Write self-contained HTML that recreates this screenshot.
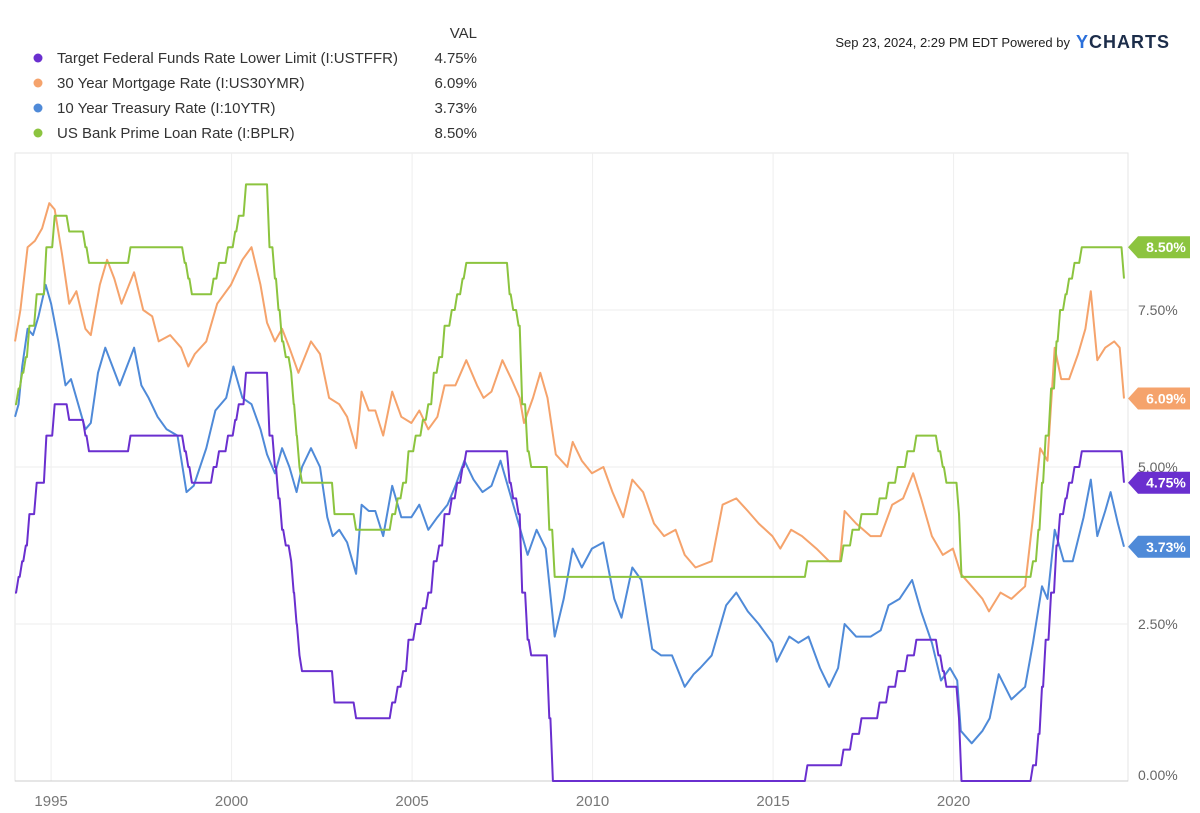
<!DOCTYPE html>
<html><head><meta charset="utf-8"><style>
body{margin:0;background:#fff;font-family:"Liberation Sans",sans-serif;}
svg{display:block}
</style></head><body>
<svg id="c" width="1200" height="813" xmlns="http://www.w3.org/2000/svg">
<g font-size="15" fill="#333">
<text x="477" y="38" text-anchor="end">VAL</text>
<g><circle cx="38" cy="58" r="4.5" fill="#6a2fcf"/><text x="57" y="63">Target Federal Funds Rate Lower Limit (I:USTFFR)</text><text x="477" y="63" text-anchor="end">4.75%</text></g>
<g><circle cx="38" cy="83" r="4.5" fill="#f5a36c"/><text x="57" y="88">30 Year Mortgage Rate (I:US30YMR)</text><text x="477" y="88" text-anchor="end">6.09%</text></g>
<g><circle cx="38" cy="108" r="4.5" fill="#4f8ad8"/><text x="57" y="113">10 Year Treasury Rate (I:10YTR)</text><text x="477" y="113" text-anchor="end">3.73%</text></g>
<g><circle cx="38" cy="133" r="4.5" fill="#8cc43f"/><text x="57" y="138">US Bank Prime Loan Rate (I:BPLR)</text><text x="477" y="138" text-anchor="end">8.50%</text></g>
</g>
<text x="1070" y="47" font-size="13" fill="#222" text-anchor="end">Sep 23, 2024, 2:29 PM EDT Powered by</text>
<text x="1076" y="48" font-size="18" font-weight="bold" fill="#1c2d4a" letter-spacing="1"><tspan fill="#2a6fdb">Y</tspan>CHARTS</text>
<g id="grid"></g>
<g id="series"></g>
<g id="tags"></g>
</svg>
<script>
const xTickYears=[1995,2000,2005,2010,2015,2020];
const yTicks=[0,2.5,5,7.5];
const yTickLabels=["0.00%","2.50%","5.00%","7.50%"];
const fedT=[1994.0,1994.1,1994.2,1994.3,1994.4,1994.6,1994.87,1995.1,1995.5,1995.95,1996.05,1997.2,1998.7,1998.8,1998.9,1999.5,1999.65,1999.9,2000.1,2000.2,2000.4,2001.05,2001.2,2001.3,2001.4,2001.5,2001.65,2001.72,2001.8,2001.88,2001.95,2002.85,2003.45,2004.45,2004.6,2004.75,2004.9,2005.1,2005.3,2005.45,2005.6,2005.75,2005.9,2006.1,2006.25,2006.4,2006.5,2007.7,2007.8,2007.95,2008.05,2008.2,2008.3,2008.8,2008.9,2015.95,2016.95,2017.2,2017.45,2017.95,2018.2,2018.45,2018.72,2018.97,2019.58,2019.7,2019.8,2020.15,2020.22,2022.2,2022.35,2022.45,2022.55,2022.7,2022.85,2022.95,2023.1,2023.2,2023.35,2023.55,2024.72];
const fedV=[3.0,3.25,3.5,3.75,4.25,4.75,5.5,6.0,5.75,5.5,5.25,5.5,5.25,5.0,4.75,5.0,5.25,5.5,5.75,6.0,6.5,5.5,5.0,4.5,4.0,3.75,3.5,3.0,2.5,2.0,1.75,1.25,1.0,1.25,1.5,1.75,2.25,2.5,2.75,3.0,3.5,3.75,4.25,4.5,4.75,5.0,5.25,4.75,4.5,4.25,3.0,2.25,2.0,1.0,0,0.25,0.5,0.75,1.0,1.25,1.5,1.75,2.0,2.25,2.0,1.75,1.5,1.0,0,0.25,0.75,1.5,2.25,3.0,3.75,4.25,4.5,4.75,5.0,5.25,4.75];
const primeT=[1994.0,1994.1,1994.2,1994.3,1994.4,1994.6,1994.87,1995.1,1995.5,1995.95,1996.05,1997.2,1998.7,1998.8,1998.9,1999.5,1999.65,1999.9,2000.1,2000.2,2000.4,2001.05,2001.2,2001.3,2001.4,2001.5,2001.65,2001.72,2001.8,2001.88,2001.95,2002.85,2003.45,2004.45,2004.6,2004.75,2004.9,2005.1,2005.3,2005.45,2005.6,2005.75,2005.9,2006.1,2006.25,2006.4,2006.5,2007.7,2007.8,2007.95,2008.05,2008.2,2008.3,2008.8,2008.95,2015.95,2016.95,2017.2,2017.45,2017.95,2018.2,2018.45,2018.72,2018.97,2019.58,2019.7,2019.8,2020.15,2020.22,2022.2,2022.35,2022.45,2022.55,2022.7,2022.85,2022.95,2023.1,2023.2,2023.35,2023.55,2024.72];
const primeV=[6.0,6.25,6.5,6.75,7.25,7.75,8.5,9.0,8.75,8.5,8.25,8.5,8.25,8.0,7.75,8.0,8.25,8.5,8.75,9.0,9.5,8.5,8.0,7.5,7.0,6.75,6.5,6.0,5.5,5.0,4.75,4.25,4.0,4.25,4.5,4.75,5.25,5.5,5.75,6.0,6.5,6.75,7.25,7.5,7.75,8.0,8.25,7.75,7.5,7.25,6.0,5.25,5.0,4.0,3.25,3.5,3.75,4.0,4.25,4.5,4.75,5.0,5.25,5.5,5.25,5.0,4.75,4.25,3.25,3.5,4.0,4.75,5.5,6.25,7.0,7.5,7.75,8.0,8.25,8.5,8.0];
const tsyT=[1994.0,1994.1,1994.2,1994.35,1994.5,1994.65,1994.85,1995.0,1995.2,1995.4,1995.55,1995.75,1995.95,1996.1,1996.3,1996.5,1996.7,1996.9,1997.1,1997.3,1997.5,1997.7,1997.95,1998.2,1998.5,1998.75,1998.95,1999.3,1999.55,1999.85,2000.05,2000.3,2000.55,2000.8,2000.98,2001.2,2001.4,2001.6,2001.8,2001.95,2002.2,2002.45,2002.65,2002.8,2002.98,2003.2,2003.45,2003.6,2003.8,2003.98,2004.2,2004.45,2004.7,2004.98,2005.2,2005.45,2005.7,2005.98,2006.2,2006.45,2006.7,2006.95,2007.2,2007.45,2007.7,2007.95,2008.2,2008.45,2008.7,2008.95,2009.2,2009.45,2009.7,2009.98,2010.3,2010.6,2010.8,2011.1,2011.35,2011.65,2011.9,2012.2,2012.55,2012.8,2012.98,2013.3,2013.7,2013.98,2014.3,2014.6,2014.98,2015.1,2015.45,2015.7,2015.98,2016.3,2016.55,2016.8,2016.98,2017.3,2017.7,2017.98,2018.2,2018.5,2018.85,2019.1,2019.4,2019.65,2019.9,2020.1,2020.2,2020.5,2020.8,2021.0,2021.25,2021.6,2021.98,2022.2,2022.45,2022.6,2022.8,2023.05,2023.3,2023.6,2023.8,2023.98,2024.2,2024.35,2024.55,2024.72];
const tsyV=[5.8,6.0,6.6,7.2,7.1,7.4,7.9,7.6,7.0,6.3,6.4,6.0,5.6,5.7,6.5,6.9,6.6,6.3,6.6,6.9,6.3,6.1,5.8,5.6,5.5,4.6,4.7,5.3,5.9,6.1,6.6,6.1,6.0,5.6,5.2,4.9,5.3,5.0,4.6,5.0,5.3,5.0,4.2,3.9,4.0,3.8,3.3,4.4,4.3,4.3,3.9,4.7,4.2,4.2,4.4,4.0,4.2,4.4,4.7,5.1,4.8,4.6,4.7,5.1,4.6,4.1,3.6,4.0,3.7,2.3,2.9,3.7,3.4,3.7,3.8,2.9,2.6,3.4,3.2,2.1,2.0,2.0,1.5,1.7,1.8,2.0,2.8,3.0,2.7,2.5,2.2,1.9,2.3,2.2,2.3,1.8,1.5,1.8,2.5,2.3,2.3,2.4,2.8,2.9,3.2,2.7,2.2,1.6,1.8,1.6,0.8,0.6,0.8,1.0,1.7,1.3,1.5,2.2,3.1,2.9,4.0,3.5,3.5,4.2,4.8,3.9,4.3,4.6,4.1,3.73];
const mtgT=[1994.0,1994.15,1994.35,1994.55,1994.75,1994.95,1995.1,1995.3,1995.5,1995.7,1995.95,1996.1,1996.35,1996.55,1996.75,1996.95,1997.3,1997.55,1997.8,1997.98,1998.3,1998.6,1998.8,1998.98,1999.3,1999.6,1999.98,2000.3,2000.55,2000.8,2000.98,2001.2,2001.4,2001.6,2001.85,2002.2,2002.45,2002.7,2002.98,2003.2,2003.45,2003.6,2003.8,2003.98,2004.2,2004.45,2004.7,2004.98,2005.2,2005.45,2005.7,2005.9,2006.2,2006.5,2006.8,2006.98,2007.2,2007.5,2007.75,2007.98,2008.1,2008.35,2008.55,2008.75,2008.98,2009.3,2009.45,2009.7,2009.98,2010.3,2010.55,2010.85,2011.1,2011.4,2011.7,2011.98,2012.3,2012.55,2012.85,2013.3,2013.6,2013.98,2014.3,2014.6,2014.98,2015.2,2015.5,2015.8,2016.2,2016.55,2016.85,2016.98,2017.3,2017.7,2017.98,2018.3,2018.6,2018.88,2019.1,2019.4,2019.7,2019.98,2020.2,2020.5,2020.8,2020.98,2021.3,2021.6,2021.98,2022.2,2022.4,2022.6,2022.8,2022.98,2023.2,2023.45,2023.65,2023.8,2023.98,2024.2,2024.45,2024.6,2024.72];
const mtgV=[7.0,7.5,8.5,8.6,8.8,9.2,9.1,8.4,7.6,7.8,7.2,7.1,7.9,8.3,8.0,7.6,8.1,7.5,7.4,7.0,7.1,6.9,6.6,6.8,7.0,7.6,7.9,8.3,8.5,7.9,7.3,7.0,7.2,6.9,6.5,7.0,6.8,6.1,6.0,5.8,5.3,6.2,5.9,5.9,5.5,6.2,5.8,5.7,5.9,5.6,5.8,6.3,6.3,6.7,6.3,6.1,6.2,6.7,6.4,6.1,5.7,6.1,6.5,6.1,5.2,5.0,5.4,5.1,4.9,5.0,4.6,4.2,4.8,4.6,4.1,3.9,4.0,3.6,3.4,3.5,4.4,4.5,4.3,4.1,3.9,3.7,4.0,3.9,3.7,3.5,3.5,4.3,4.1,3.9,3.9,4.4,4.5,4.9,4.5,3.9,3.6,3.7,3.3,3.1,2.9,2.7,3.0,2.9,3.1,4.2,5.3,5.1,6.9,6.4,6.4,6.8,7.2,7.8,6.7,6.9,7.0,6.9,6.09];
const X0=1994.0,PX0=15,PXY=36.1,PY0=781,PPY=62.8;
const L=15,R=1128,T=153,B=781;
const xs=t=>PX0+(t-X0)*PXY, ys=v=>PY0-v*PPY;
const NS="http://www.w3.org/2000/svg";
function mk(tag,attrs,parent){const e=document.createElementNS(NS,tag);for(const k in attrs)e.setAttribute(k,attrs[k]);parent.appendChild(e);return e;}
const grid=document.getElementById('grid');
const frame=mk('rect',{x:L,y:T,width:R-L,height:B-T,fill:'none',stroke:'#e6e6e6'},grid);


xTickYears.forEach(yr=>{
  const x=xs(yr);
  const ln=mk('line',{x1:x,x2:x,y1:T,y2:B,stroke:'#eeeeee'},grid);
  
  
  const tx=mk('text',{x:x,y:806,'text-anchor':'middle','font-size':15,fill:'#777'},grid);
  tx.textContent=yr;
  
  
});
yTicks.forEach((v,i)=>{
  const y=ys(v);
  if(v>0){const ln=mk('line',{x1:L,x2:R,y1:y,y2:y,stroke:'#eeeeee'},grid);
  
  }
  const tx=mk('text',{x:1138,y:v===0?y-1:y+5,'font-size':14,fill:'#666'},grid);
  tx.textContent=yTickLabels[i];
  
  
});
const base=mk('line',{x1:L,x2:R,y1:B,y2:B,stroke:'#cccccc'},grid);


const sg=document.getElementById('series');
function line(T_,V_,color,name,step){
  let pts=[];
  T_.forEach((t,i)=>{
    if(step&&i>0) pts.push([Math.max(T_[i-1],t-0.07),V_[i-1]]);
    pts.push([t,V_[i]]);
  });
  const d=pts.map((p,i)=>(i?'L':'M')+xs(p[0]).toFixed(1)+','+ys(p[1]).toFixed(1)).join('');
  const p=mk('path',{d:d,fill:'none',stroke:color,'stroke-width':2,'stroke-linejoin':'round'},sg);
  
  
}
line(mtgT,mtgV,'#f5a36c','mortgage-line',false);
line(tsyT,tsyV,'#4f8ad8','treasury-line',false);
line(primeT,primeV,'#8cc43f','prime-line',true);
line(fedT,fedV,'#6a2fcf','fedfunds-line',true);
const tg=document.getElementById('tags');
const tagVals=[8.5,6.09,4.75,3.73];
const tagColors=['#8cc43f','#f5a36c','#6a2fcf','#4f8ad8'];
tagVals.forEach((v,i)=>{
  const y=ys(v);
  const g=mk('g',{},tg);
  
  
  mk('polygon',{points:`${R},${y} ${R+10},${y-11} ${R+62},${y-11} ${R+62},${y+11} ${R+10},${y+11}`,fill:tagColors[i]},g);
  const t=mk('text',{x:R+38,y:y+5,'text-anchor':'middle','font-size':14,'font-weight':'bold',fill:'#fff'},g);
  t.textContent=v.toFixed(2)+'%';
});
</script>
</body></html>
